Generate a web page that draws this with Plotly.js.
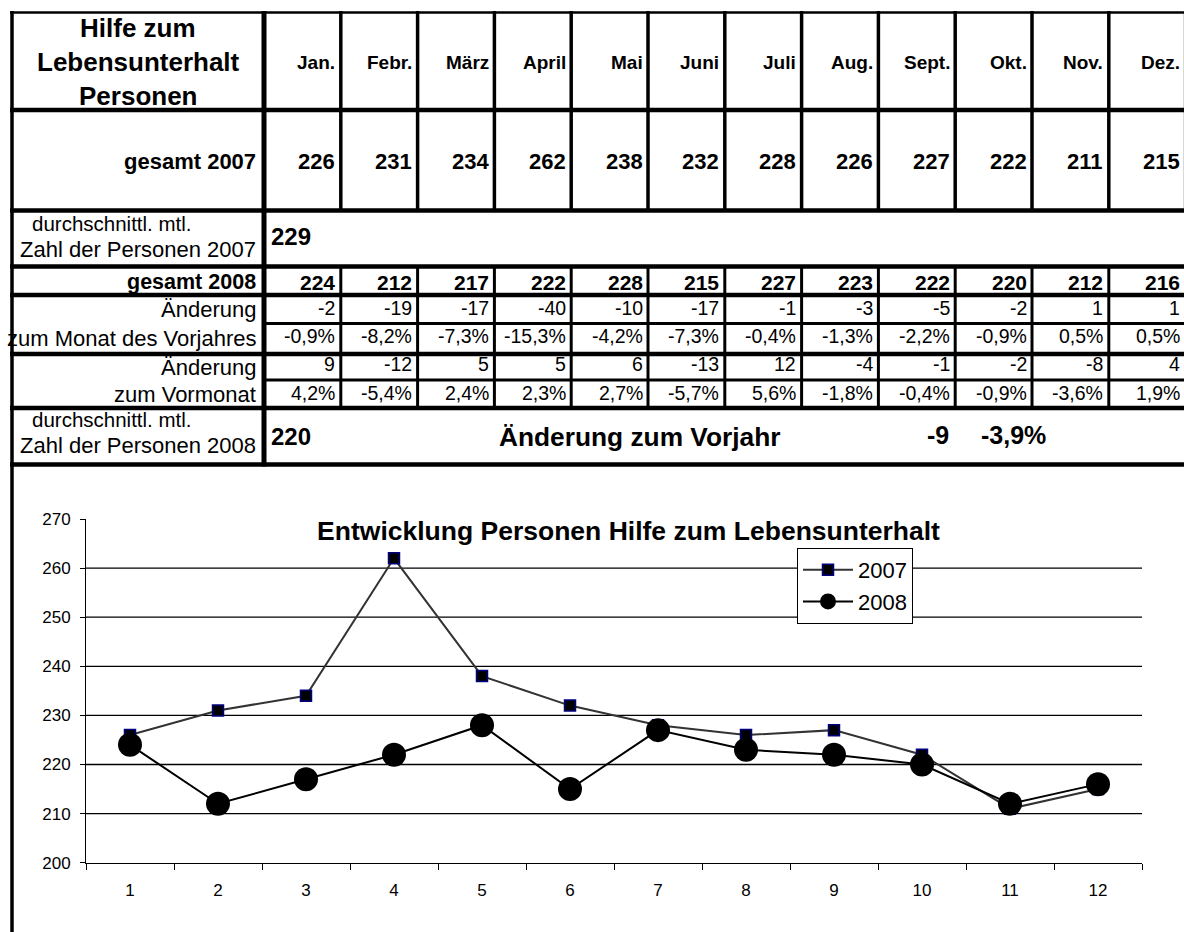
<!DOCTYPE html>
<html>
<head>
<meta charset="utf-8">
<script src="https://cdn.plot.ly/plotly-3.0.1.min.js"></script>
<style>
  html, body { margin: 0; padding: 0; background: #fff; }
  #chart { width: 1184px; height: 932px; }
</style>
</head>
<body>
<div id="chart"></div>
<script>
// Monatsübersicht: Personen mit Hilfe zum Lebensunterhalt 2007 / 2008
const months = ['Jan.', 'Febr.', 'März', 'April', 'Mai', 'Juni', 'Juli', 'Aug.', 'Sept.', 'Okt.', 'Nov.', 'Dez.'];
const monthNumbers = ['1', '2', '3', '4', '5', '6', '7', '8', '9', '10', '11', '12'];
const persons2007 = [226, 231, 234, 262, 238, 232, 228, 226, 227, 222, 211, 215];
const persons2008 = [224, 212, 217, 222, 228, 215, 227, 223, 222, 220, 212, 216];
const changePrevYear = [-2, -19, -17, -40, -10, -17, -1, -3, -5, -2, 1, 1];
const changePrevYearPct = [-0.9, -8.2, -7.3, -15.3, -4.2, -7.3, -0.4, -1.3, -2.2, -0.9, 0.5, 0.5];
const changePrevMonth = [9, -12, 5, 5, 6, -13, 12, -4, -1, -2, -8, 4];
const changePrevMonthPct = [4.2, -5.4, 2.4, 2.3, 2.7, -5.7, 5.6, -1.8, -0.4, -0.9, -3.6, 1.9];
const average2007 = 229;
const average2008 = 220;
const averageChange = -9;
const averageChangePct = -3.9;

const seriesNames = ['2007', '2008'];
const chartTitle = 'Entwicklung Personen Hilfe zum Lebensunterhalt';
const yTicks = [200, 210, 220, 230, 240, 250, 260, 270];
const yGrid = [210, 220, 230, 240, 250, 260];

// ---- page geometry (pixels -> paper fractions) ----
const W = 1184, H = 932;
const px = v => v / W;
const py = v => (H - v) / H;
const FONT = 'Liberation Sans, Arial, Helvetica, sans-serif';

const labelRight = 258;               // right edge of text in the label column
const colEdge = k => 264 + 76.8 * k;  // k = 0 is the thick separator after the label column
const rows = {
  top: 12.5, head: 110, g07: 210.5, avg07: 266.5, g08: 295,
  c1mid: 323.5, c1: 354, c2mid: 380, c2: 408, avg08: 464.5
};
const plotLeft = 86, plotRight = 1142, plotTop = 519, plotBottom = 862.7;

const fmtPct = v => v.toFixed(1).replace('.', ',') + '%';

const shapes = [];
function hline(y, x0, x1, w) {
  shapes.push({type: 'line', xref: 'paper', yref: 'paper', layer: 'above',
    x0: px(x0), x1: px(x1), y0: py(y), y1: py(y), line: {color: '#000', width: w}});
}
function vline(x, y0, y1, w) {
  shapes.push({type: 'line', xref: 'paper', yref: 'paper', layer: 'above',
    x0: px(x), x1: px(x), y0: py(y0), y1: py(y1), line: {color: '#000', width: w}});
}

// grid of the table
hline(rows.top, 10, W + 10, 2.5);
[rows.head, rows.g07, rows.avg07, rows.g08, rows.c1, rows.c2, rows.avg08]
  .forEach(y => hline(y, 10, W + 10, 4.5));
hline(rows.c1mid, colEdge(0), W + 10, 3);
hline(rows.c2mid, colEdge(0), W + 10, 3);
vline(12, 11, H + 5, 3.5);
vline(colEdge(0), 11, rows.avg08 + 2, 5);
for (let k = 1; k <= 12; k++) {
  vline(colEdge(k), 11, rows.g07, 3.5);
  vline(colEdge(k), rows.avg07, rows.c2, 3);
}

// horizontal value lines of the chart (210 ... 260), on the y scale
yGrid.forEach(v => shapes.push({
  type: 'line', xref: 'paper', yref: 'y', layer: 'below',
  x0: px(plotLeft), x1: px(plotRight), y0: v, y1: v,
  line: {color: '#000', width: 1.3}
}));

const annotations = [];
function txt(text, x, y, size, bold, anchor) {
  annotations.push({
    text: String(text), xref: 'paper', yref: 'paper', x: px(x), y: py(y),
    xanchor: anchor || 'right', yanchor: 'middle', showarrow: false,
    font: {family: FONT, size: size, color: '#000', weight: bold ? 'bold' : 'normal'}
  });
}

// header block
txt('Hilfe zum', 138, 28, 26, true, 'center');
txt('Lebensunterhalt', 138, 62, 26, true, 'center');
txt('Personen', 138, 96, 26, true, 'center');
months.forEach((m, i) => txt(m, colEdge(i + 1) - 3.5, 63, 19, true));

// 2007
txt('gesamt 2007', labelRight, 161, 22, true);
persons2007.forEach((v, i) => txt(v, colEdge(i + 1) - 3.5, 161, 22, true));
txt('durchschnittl. mtl.', 30, 223, 20.5, false, 'left');
txt('Zahl der Personen 2007', 18, 250, 22, false, 'left');
txt(average2007, 269, 237, 24, true, 'left');

// 2008
txt('gesamt 2008', labelRight, 282, 21.5, true);
persons2008.forEach((v, i) => txt(v, colEdge(i + 1) - 3.5, 282, 21, true));
txt('Änderung', labelRight, 310, 22, false);
txt('zum Monat des Vorjahres', labelRight, 339, 22, false);
changePrevYear.forEach((v, i) => txt(v, colEdge(i + 1) - 3.5, 308, 19.5, false));
changePrevYearPct.forEach((v, i) => txt(fmtPct(v), colEdge(i + 1) - 3.5, 336, 19.5, false));
txt('Änderung', labelRight, 367, 22, false);
txt('zum Vormonat', labelRight, 394, 22, false);
changePrevMonth.forEach((v, i) => txt(v, colEdge(i + 1) - 3.5, 364, 19.5, false));
changePrevMonthPct.forEach((v, i) => txt(fmtPct(v), colEdge(i + 1) - 3.5, 393, 19.5, false));
txt('durchschnittl. mtl.', 30, 419, 20.5, false, 'left');
txt('Zahl der Personen 2008', 18, 445, 22, false, 'left');
txt(average2008, 269, 436, 24, true, 'left');
txt('Änderung zum Vorjahr', 497, 437, 26.3, true, 'left');
txt(averageChange, 951, 435, 25, true, 'right');
txt(fmtPct(averageChangePct), 979, 435, 25, true, 'left');

// ---- line chart ----
const traces = [
  {
    x: monthNumbers, y: persons2007, name: seriesNames[0],
    type: 'scatter', mode: 'lines+markers',
    line: {color: '#333333', width: 2},
    marker: {symbol: 'square', size: 11, color: '#000', line: {color: '#000080', width: 1.5}}
  },
  {
    x: monthNumbers, y: persons2008, name: seriesNames[1],
    type: 'scatter', mode: 'lines+markers',
    line: {color: '#000', width: 2},
    marker: {symbol: 'circle', size: 24, color: '#000'}
  }
];

const layout = {
  width: W, height: H,
  margin: {l: 0, r: 0, t: 0, b: 0, pad: 0},
  paper_bgcolor: '#fff', plot_bgcolor: '#fff',
  font: {family: FONT, color: '#000'},
  showlegend: true,
  title: {
    text: chartTitle, xref: 'paper', yref: 'paper',
    x: px(628.5), y: py(531), xanchor: 'center', yanchor: 'middle',
    font: {family: FONT, size: 26.5, weight: 'bold', color: '#000'}
  },
  xaxis: {
    type: 'category', domain: [px(plotLeft), px(plotRight)],
    range: [-0.5, 11.5], fixedrange: true,
    showline: true, linecolor: '#000', linewidth: 1,
    ticks: 'outside', tickson: 'boundaries', ticklen: 6, tickcolor: '#000', tickwidth: 1,
    showgrid: false, zeroline: false,
    tickfont: {family: FONT, size: 17, color: '#000'}, ticklabelstandoff: 12
  },
  yaxis: {
    domain: [py(plotBottom), py(plotTop)],
    range: [200, 270], fixedrange: true,
    tickmode: 'array', tickvals: yTicks,
    ticks: 'outside', ticklen: 5, tickcolor: '#000', tickwidth: 1,
    showline: true, linecolor: '#000', linewidth: 1,
    showgrid: false, zeroline: false,
    tickfont: {family: FONT, size: 17, color: '#000'}, ticklabelstandoff: 6
  },
  legend: {
    x: px(797), y: py(548), xanchor: 'left', yanchor: 'top',
    bgcolor: '#fff', bordercolor: '#000', borderwidth: 1,
    font: {family: FONT, size: 22, color: '#000'},
    itemwidth: 50, tracegroupgap: 0
  },
  shapes: shapes,
  annotations: annotations
};

Plotly.newPlot('chart', traces, layout, {displayModeBar: false, staticPlot: true});
</script>
</body>
</html>
